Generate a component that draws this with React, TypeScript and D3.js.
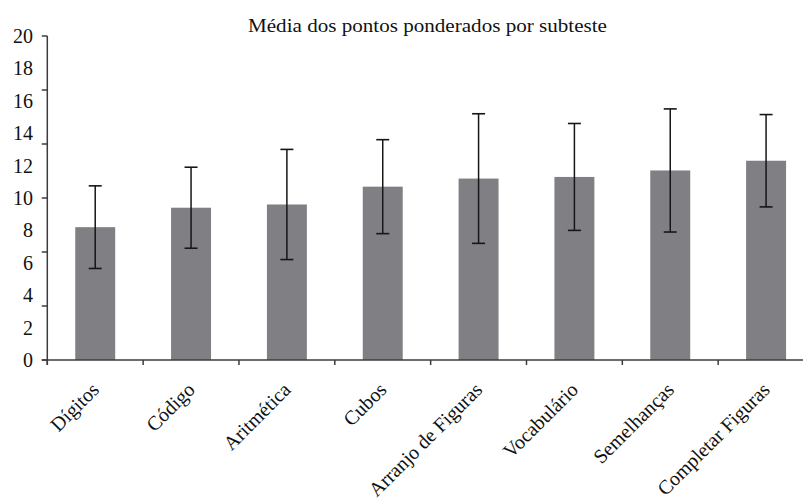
import React from "react";
import * as d3 from "d3";

const title = "Média dos pontos ponderados por subteste";
const subtests = [
  "Dígitos",
  "Código",
  "Aritmética",
  "Cubos",
  "Arranjo de Figuras",
  "Vocabulário",
  "Semelhanças",
  "Completar Figuras",
];
const means = [8.2, 9.4, 9.6, 10.7, 11.2, 11.3, 11.7, 12.3];
const deviations = [2.55, 2.5, 3.4, 2.9, 4.0, 3.3, 3.8, 2.85];
const yLabels = [0, 2, 4, 6, 8, 10, 12, 14, 16, 18, 20];
const yMax = 20;
const yTickCount = 6;

const W = 803;
const H = 503;
const axisColor = "#3c3c3c";
const barColor = "#808084";
const textStyle = { fontFamily: "Liberation Serif, Times New Roman, serif" };

export default function App() {
  const x = d3
    .scaleBand<string>()
    .domain(subtests)
    .range([47.3, 814])
    .paddingInner(0.583)
    .paddingOuter(0.2915);
  const y = d3.scaleLinear().domain([0, yMax]).range([360, 36]);

  const bw = x.bandwidth();
  const step = x.step();
  const x0 = x.range()[0];
  const catTicks = d3.range(subtests.length + 1).map((i) => x0 + i * step);
  const yTicks = d3.range(yTickCount + 1).map((i) => (i * yMax) / yTickCount);
  const capHalf = 6.5;

  return (
    <svg
      width={W}
      height={H}
      style={{ position: "absolute", left: 0, top: 0, background: "#fff" }}
    >
      <rect width={W} height={H} fill="#fff" />
      <text
        x={427.5}
        y={31.7}
        textAnchor="middle"
        fontSize={18.5}
        textLength={359}
        lengthAdjust="spacingAndGlyphs"
        fill="#111"
        style={textStyle}
      >
        {title}
      </text>

      {subtests.map((s, i) => {
        const cx = (x(s) as number) + bw / 2;
        const top = y(means[i] + deviations[i]);
        const bot = y(means[i] - deviations[i]);
        return (
          <g key={s}>
            <rect
              x={x(s)}
              y={y(means[i])}
              width={bw}
              height={y(0) - y(means[i])}
              fill={barColor}
            />
            <line x1={cx} x2={cx} y1={top} y2={bot} stroke="#161616" strokeWidth={1.5} />
            <line x1={cx - capHalf} x2={cx + capHalf} y1={top} y2={top} stroke="#161616" strokeWidth={1.6} />
            <line x1={cx - capHalf} x2={cx + capHalf} y1={bot} y2={bot} stroke="#161616" strokeWidth={1.6} />
          </g>
        );
      })}

      {/* y axis */}
      <line x1={x0} x2={x0} y1={y(yMax)} y2={y(0) + 5} stroke={axisColor} strokeWidth={1.5} />
      {yTicks.map((t) => (
        <line key={t} x1={x0 - 5.5} x2={x0} y1={y(t)} y2={y(t)} stroke={axisColor} strokeWidth={1.5} />
      ))}
      {yLabels.map((v) => (
        <text key={v} x={33} y={y(v) + 7} textAnchor="end" fontSize={20} fill="#111" style={textStyle}>
          {v}
        </text>
      ))}

      {/* x axis */}
      <line x1={x0 - 5.5} x2={W} y1={y(0)} y2={y(0)} stroke={axisColor} strokeWidth={1.5} />
      {catTicks.map((t, i) => (
        <line key={i} x1={t} x2={t} y1={y(0)} y2={y(0) + 5} stroke={axisColor} strokeWidth={1.5} />
      ))}
      {subtests.map((s) => {
        const cx = (x(s) as number) + bw / 2;
        return (
          <text
            key={s}
            transform={`translate(${cx + 5},${y(0) + 31}) rotate(-45)`}
            textAnchor="end"
            fontSize={20}
            fill="#111"
            style={textStyle}
          >
            {s}
          </text>
        );
      })}
    </svg>
  );
}
